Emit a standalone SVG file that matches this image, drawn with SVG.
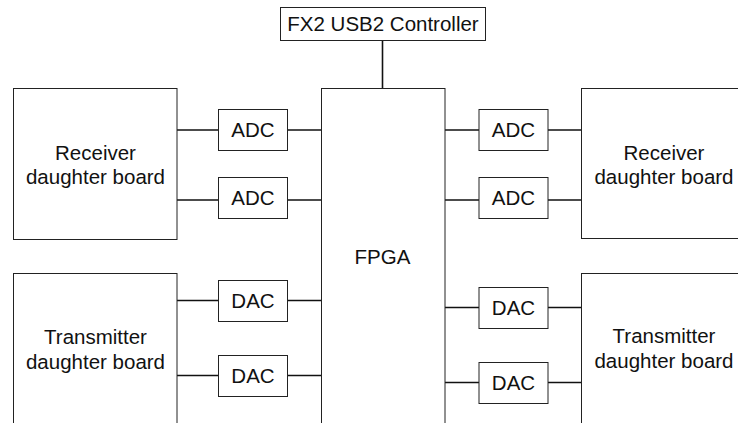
<svg xmlns="http://www.w3.org/2000/svg" width="738" height="423" viewBox="0 0 738 423">
<style>
.box{fill:#fff;stroke:#222;stroke-width:1}
.t{font-family:"Liberation Sans",Arial,sans-serif;font-size:20.5px;fill:#111;text-anchor:middle}
.c{stroke:#111;stroke-width:1.6;fill:none}
</style>
<rect width="738" height="423" fill="#fff"/>
<g id="connectors">
<line class="c" x1="382.5" y1="41" x2="382.5" y2="88"/>
<line class="c" x1="177" y1="130" x2="218.5" y2="130"/>
<line class="c" x1="287.5" y1="130" x2="321.5" y2="130"/>
<line class="c" x1="177" y1="200" x2="218.5" y2="200"/>
<line class="c" x1="287.5" y1="200" x2="321.5" y2="200"/>
<line class="c" x1="177" y1="300.5" x2="218.5" y2="300.5"/>
<line class="c" x1="287.5" y1="300.5" x2="321.5" y2="300.5"/>
<line class="c" x1="177" y1="375.5" x2="218.5" y2="375.5"/>
<line class="c" x1="287.5" y1="375.5" x2="321.5" y2="375.5"/>
<line class="c" x1="445" y1="130" x2="479" y2="130"/>
<line class="c" x1="548" y1="130" x2="581.5" y2="130"/>
<line class="c" x1="445" y1="200" x2="479" y2="200"/>
<line class="c" x1="548" y1="200" x2="581.5" y2="200"/>
<line class="c" x1="445" y1="307.5" x2="479" y2="307.5"/>
<line class="c" x1="548" y1="307.5" x2="581.5" y2="307.5"/>
<line class="c" x1="445" y1="382.5" x2="479" y2="382.5"/>
<line class="c" x1="548" y1="382.5" x2="581.5" y2="382.5"/>
</g>
<g id="fx2"><rect class="box" x="280.5" y="7.5" width="205" height="33"/><text class="t" x="383" y="31">FX2 USB2 Controller</text></g>
<g id="fpga"><rect class="box" x="321.5" y="88.5" width="123.5" height="345"/><text class="t" x="382.5" y="264">FPGA</text></g>
<g id="rx-left"><rect class="box" x="13.5" y="88.5" width="163.5" height="151"/><text class="t" x="95.5" y="160">Receiver</text><text class="t" x="95.5" y="183.5">daughter board</text></g>
<g id="tx-left"><rect class="box" x="13.5" y="273.5" width="163.5" height="160"/><text class="t" x="95.5" y="343.5">Transmitter</text><text class="t" x="95.5" y="368.5">daughter board</text></g>
<g id="rx-right"><rect class="box" x="581.5" y="88.5" width="170" height="150"/><text class="t" x="664" y="160">Receiver</text><text class="t" x="664" y="183.5">daughter board</text></g>
<g id="tx-right"><rect class="box" x="581.5" y="273.5" width="170" height="160"/><text class="t" x="664" y="343">Transmitter</text><text class="t" x="664" y="368">daughter board</text></g>
<g id="adc-l1"><rect class="box" x="218.5" y="109.5" width="69" height="41"/><text class="t" x="253" y="137">ADC</text></g>
<g id="adc-l2"><rect class="box" x="218.5" y="177.5" width="69" height="41"/><text class="t" x="253" y="205">ADC</text></g>
<g id="dac-l1"><rect class="box" x="218.5" y="280.5" width="69" height="41"/><text class="t" x="253" y="308">DAC</text></g>
<g id="dac-l2"><rect class="box" x="218.5" y="355.5" width="69" height="41"/><text class="t" x="253" y="383">DAC</text></g>
<g id="adc-r1"><rect class="box" x="479" y="109.5" width="69" height="41"/><text class="t" x="513.5" y="137">ADC</text></g>
<g id="adc-r2"><rect class="box" x="479" y="177.5" width="69" height="41"/><text class="t" x="513.5" y="205">ADC</text></g>
<g id="dac-r1"><rect class="box" x="479" y="287.5" width="69" height="41"/><text class="t" x="513.5" y="315">DAC</text></g>
<g id="dac-r2"><rect class="box" x="479" y="362.5" width="69" height="41"/><text class="t" x="513.5" y="389.5">DAC</text></g>
</svg>
